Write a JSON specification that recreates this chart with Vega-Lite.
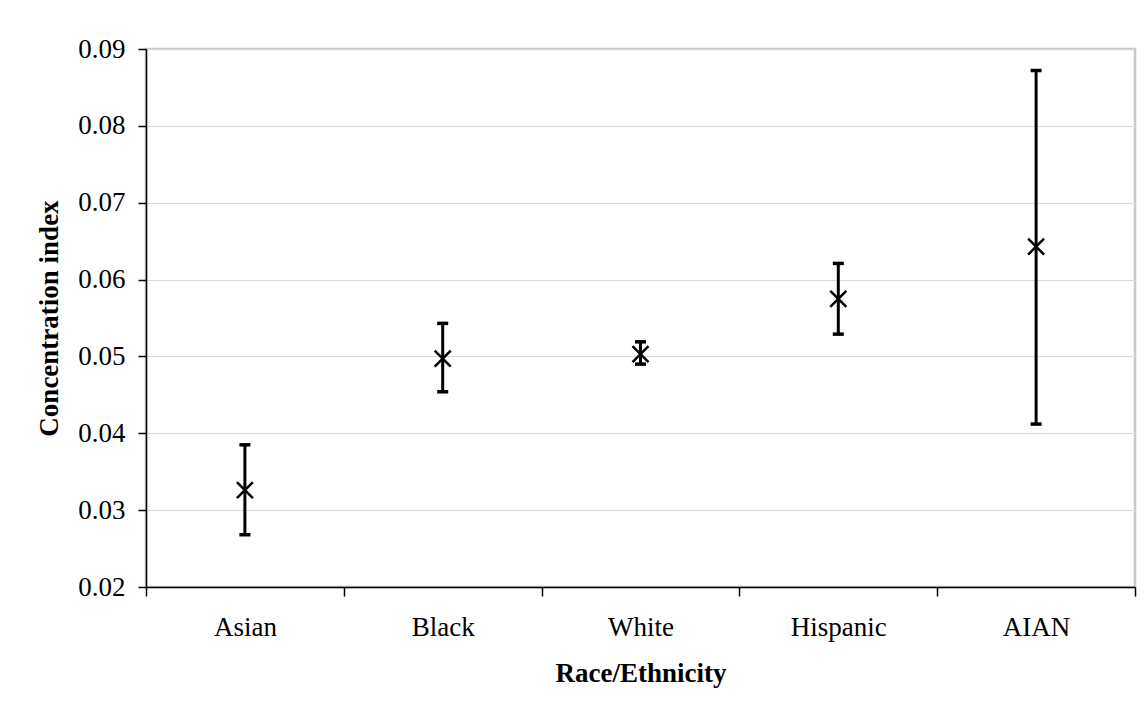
{
  "$schema": "https://vega.github.io/schema/vega-lite/v6.json",
  "autosize": "none",
  "width": 989,
  "height": 538,
  "padding": {"left": 146, "top": 49, "right": 13, "bottom": 130},
  "background": "white",
  "data": {
    "values": [
      {"group": "Asian", "ci": 0.0326, "lower": 0.0268, "upper": 0.0385},
      {"group": "Black", "ci": 0.0497, "lower": 0.0454, "upper": 0.0543},
      {"group": "White", "ci": 0.0503, "lower": 0.0490, "upper": 0.0519},
      {"group": "Hispanic", "ci": 0.0575, "lower": 0.0529, "upper": 0.0621},
      {"group": "AIAN", "ci": 0.0643, "lower": 0.0412, "upper": 0.0872}
    ]
  },
  "encoding": {
    "x": {
      "field": "group",
      "type": "nominal",
      "sort": null,
      "scale": {"type": "band", "paddingInner": 0, "paddingOuter": 0},
      "axis": {
        "title": "Race/Ethnicity",
        "labelAngle": 0,
        "labelFont": "Liberation Serif",
        "labelFontSize": 27,
        "labelColor": "black",
        "labelPadding": 18,
        "titleFont": "Liberation Serif",
        "titleFontSize": 27,
        "titleFontWeight": "bold",
        "titleColor": "black",
        "titlePadding": 20,
        "domainColor": "black",
        "domainWidth": 1.5,
        "tickColor": "black",
        "tickWidth": 1.5,
        "tickSize": 9,
        "tickBand": "extent",
        "grid": false
      }
    }
  },
  "layer": [
    {
      "mark": {"type": "rule", "color": "black", "strokeWidth": 3},
      "encoding": {
        "y": {
          "field": "lower",
          "type": "quantitative",
          "scale": {"domain": [0.02, 0.09], "nice": false, "zero": false},
          "axis": {
            "title": "Concentration index",
            "values": [0.02, 0.03, 0.04, 0.05, 0.06, 0.07, 0.08, 0.09],
            "format": ".2f",
            "labelFont": "Liberation Serif",
            "labelFontSize": 27,
            "labelColor": "black",
            "labelPadding": 13,
            "titleFont": "Liberation Serif",
            "titleFontSize": 27,
            "titleFontWeight": "bold",
            "titleColor": "black",
            "titlePadding": 14,
            "domainColor": "black",
            "domainWidth": 1.5,
            "tickColor": "black",
            "tickWidth": 1.5,
            "tickSize": 8,
            "gridColor": "#d9d9d9",
            "gridWidth": 1
          }
        },
        "y2": {"field": "upper"}
      }
    },
    {
      "mark": {"type": "tick", "color": "black", "size": 11, "thickness": 3.5, "opacity": 1},
      "encoding": {"y": {"field": "upper", "type": "quantitative"}}
    },
    {
      "mark": {"type": "tick", "color": "black", "size": 11, "thickness": 3.5, "opacity": 1},
      "encoding": {"y": {"field": "lower", "type": "quantitative"}}
    },
    {
      "mark": {
        "type": "point",
        "shape": "M-1,-1L1,1M1,-1L-1,1",
        "filled": false,
        "color": "black",
        "strokeWidth": 2.5,
        "size": 256,
        "opacity": 1
      },
      "encoding": {"y": {"field": "ci", "type": "quantitative"}}
    }
  ],
  "config": {
    "view": {"stroke": "#c8c8c8", "strokeWidth": 2.5}
  }
}
